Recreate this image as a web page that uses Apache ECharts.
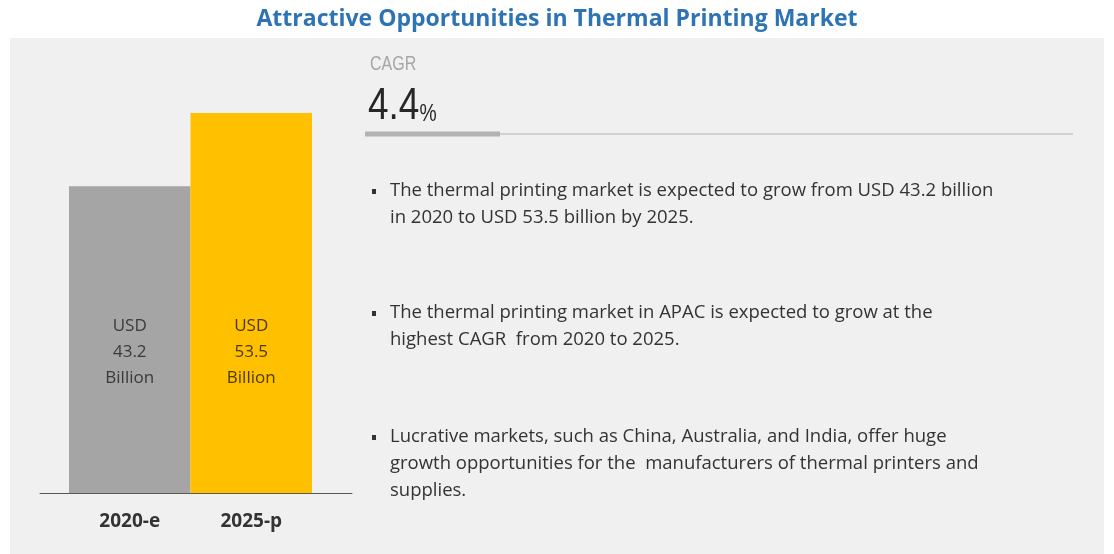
<!DOCTYPE html>
<html>
<head>
<meta charset="utf-8">
<script src="https://cdn.jsdelivr.net/npm/echarts@6/dist/echarts.min.js"></script>
<style>
  html, body { margin: 0; padding: 0; background: #fff; }
  #chart { width: 1114px; height: 554px; }
</style>
</head>
<body>
<div id="chart"></div>
<script>
// 数据
const categories = ['2020-e', '2025-p'];
const marketValues = [43.2, 53.5];
const cagrValue = '4.4';
const bullets = [
  'The thermal printing market is expected to grow from USD 43.2 billion\nin 2020 to USD 53.5 billion by 2025.',
  'The thermal printing market in APAC is expected to grow at the\nhighest CAGR  from 2020 to 2025.',
  'Lucrative markets, such as China, Australia, and India, offer huge\ngrowth opportunities for the  manufacturers of thermal printers and\nsupplies.'
];

// 样式
const barColors = ['#a5a5a5', '#ffc000'];
const labelColors = ['#3a3a3a', '#4d3b00'];
const bulletTops = [177, 299, 423];
const bodyFont = '"Open Sans", "Liberation Sans", sans-serif';
const armFont = '"Liberation Sans", Arial, sans-serif';

const chart = echarts.init(document.getElementById('chart'));

const graphics = [
  {
    type: 'rect', z: -10,
    shape: { x: 10, y: 38, width: 1094, height: 516 },
    style: { fill: '#f0f0f0' }
  },
  {
    // 窄体字用 scaleX 模拟
    type: 'text', x: 370, y: 54, scaleX: 0.8,
    style: { text: 'CAGR', fill: '#a6a6a6', fontSize: 20, fontFamily: armFont }
  },
  {
    type: 'text', x: 368, y: 85, scaleX: 0.84,
    style: {
      text: '{a|' + cagrValue + '}{b|%}',
      rich: {
        a: { fontSize: 44, fill: '#262626', fontFamily: armFont, verticalAlign: 'bottom' },
        b: { fontSize: 23, fill: '#262626', fontFamily: armFont, verticalAlign: 'bottom', padding: [0, 0, 3, 0] }
      }
    }
  },
  {
    type: 'line', z: 1,
    shape: { x1: 365, y1: 134, x2: 1073, y2: 134 },
    style: { stroke: '#d2d2d2', lineWidth: 2 }
  },
  {
    type: 'line', z: 2,
    shape: { x1: 365, y1: 134, x2: 500, y2: 134 },
    style: { stroke: '#b3b3b3', lineWidth: 5 }
  }
];

bullets.forEach((txt, i) => {
  graphics.push({
    type: 'rect',
    shape: { x: 372, y: bulletTops[i] + 12, width: 4, height: 5 },
    style: { fill: '#333' }
  });
  graphics.push({
    type: 'text', x: 390, y: bulletTops[i],
    style: { text: txt, fill: '#333', fontSize: 18.5, lineHeight: 27, fontFamily: bodyFont }
  });
});

const option = {
  backgroundColor: '#ffffff',
  title: {
    text: 'Attractive Opportunities in Thermal Printing Market',
    left: 'center',
    top: 3,
    textStyle: { color: '#2e74b5', fontSize: 23, fontWeight: 'bold', fontFamily: bodyFont }
  },
  grid: [
    { left: 69, right: 802, top: 113, bottom: 61 },
    { left: 40, right: 762, top: 113, bottom: 61 }
  ],
  xAxis: [
    {
      type: 'category', gridIndex: 0, data: categories,
      axisLine: { show: false }, axisTick: { show: false },
      axisLabel: { color: '#333', fontSize: 19, fontWeight: 'bold', margin: 19, fontFamily: bodyFont }
    },
    {
      type: 'category', gridIndex: 1, data: [''],
      axisLine: { show: true, lineStyle: { color: '#595959', width: 1 } },
      axisTick: { show: false }, axisLabel: { show: false }
    }
  ],
  yAxis: [
    { type: 'value', gridIndex: 0, min: 0, max: 53.5, show: false },
    { type: 'value', gridIndex: 1, min: 0, max: 53.5, show: false }
  ],
  series: [
    {
      type: 'bar', xAxisIndex: 0, yAxisIndex: 0,
      barCategoryGap: 0, barWidth: '100%',
      data: marketValues.map((v, i) => ({
        value: v,
        itemStyle: { color: barColors[i] },
        label: { color: labelColors[i] }
      })),
      label: {
        show: true,
        position: 'insideBottom',
        distance: 102,
        fontSize: 17,
        lineHeight: 26,
        fontFamily: bodyFont,
        formatter: (p) => 'USD\n' + p.value + '\nBillion'
      }
    }
  ],
  graphic: graphics
};

chart.setOption(option);
</script>
</body>
</html>
